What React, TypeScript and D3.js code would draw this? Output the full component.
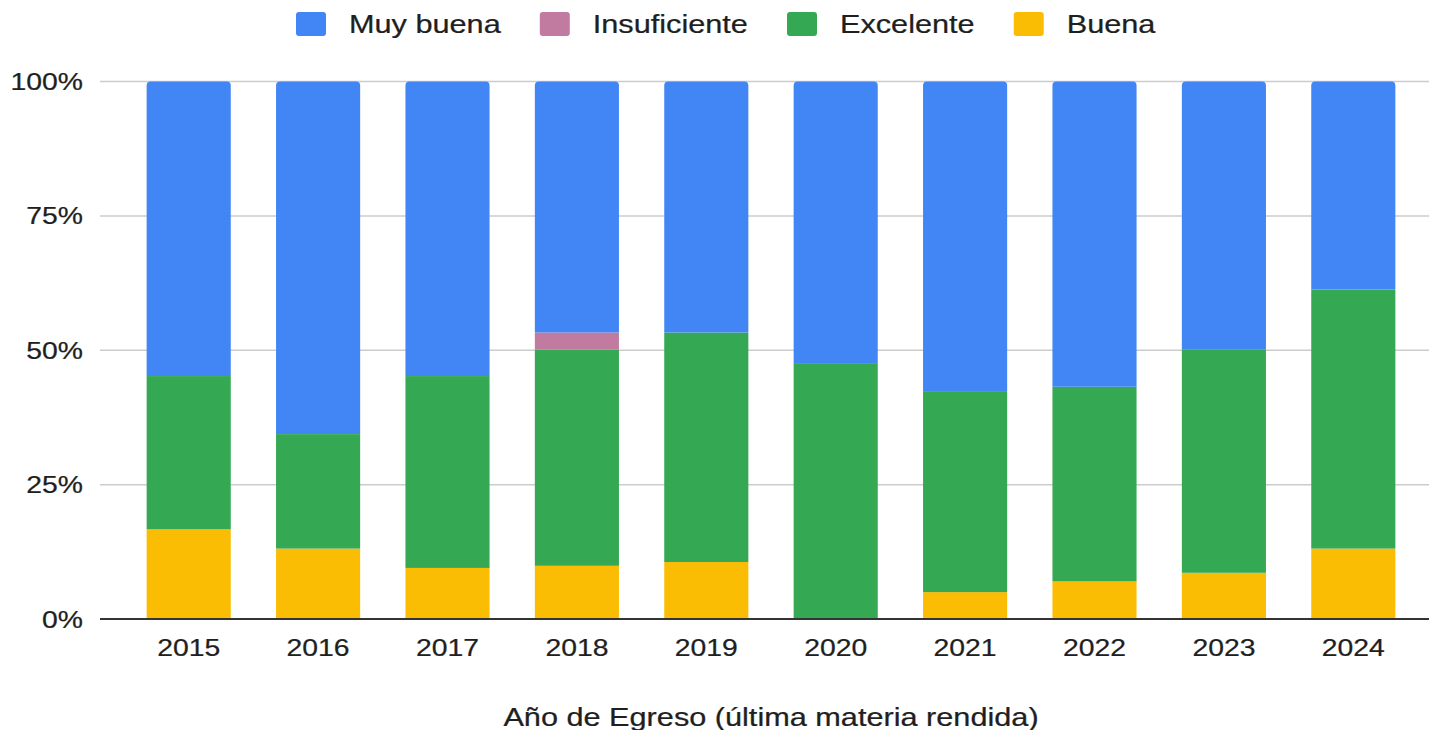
import React, { useEffect, useMemo } from "react";
import * as d3 from "d3";

const years = ["2015", "2016", "2017", "2018", "2019", "2020", "2021", "2022", "2023", "2024"];
const buena = [16.7, 13.1, 9.5, 9.9, 10.6, 0, 5.0, 7.0, 8.6, 13.1];
const excelente = [28.5, 21.3, 35.7, 40.2, 42.7, 47.6, 37.4, 36.2, 41.5, 48.2];
const insuficiente = [0, 0, 0, 3.2, 0, 0, 0, 0, 0, 0];
const muyBuena = [54.8, 65.6, 54.8, 46.7, 46.7, 52.4, 57.6, 56.8, 49.9, 38.7];
const yTicks = [0, 0.25, 0.5, 0.75, 1];
const legendOrder = ["Muy buena", "Insuficiente", "Excelente", "Buena"];
const stackOrder = ["Buena", "Excelente", "Insuficiente", "Muy buena"];
const xTitle = "Año de Egreso (última materia rendida)";

const colors: Record<string, string> = {
  "Muy buena": "#4285F4",
  Insuficiente: "#C27BA0",
  Excelente: "#34A853",
  Buena: "#FBBC04",
};

const W = 1429;
const H = 730;
const FONT = "'Liberation Sans', Arial, sans-serif";
const SX = 1.18;

function measure(text: string, size: number) {
  const c = document.createElement("canvas").getContext("2d")!;
  c.font = `${size}px ${FONT}`;
  return c.measureText(text).width;
}

function roundTopRect(x: number, y: number, w: number, h: number, r: number) {
  const rr = Math.min(r, h, w / 2);
  return `M${x},${y + h}V${y + rr}Q${x},${y} ${x + rr},${y}H${x + w - rr}Q${x + w},${y} ${x + w},${y + rr}V${y + h}Z`;
}

export default function App() {
  useEffect(() => {
    document.body.style.margin = "0";
  }, []);

  const rows = years.map((y, i) => ({
    year: y,
    Buena: buena[i],
    Excelente: excelente[i],
    Insuficiente: insuficiente[i],
    "Muy buena": muyBuena[i],
  }));

  const x = d3.scaleBand<string>().domain(years).range([124, 1418]).paddingInner(0.35).paddingOuter(0.175);
  const y = d3.scaleLinear().domain([0, 1]).range([619, 81.5]);

  const series = d3
    .stack<any>()
    .keys(stackOrder)
    .offset(d3.stackOffsetExpand)(rows as any);

  const topKey = rows.map((r: any) => {
    let k = "";
    stackOrder.forEach((s) => {
      if (r[s] > 0) k = s;
    });
    return k;
  });

  const legendItems = useMemo(() => {
    let cx = 296;
    return legendOrder.map((name) => {
      const item = { name, rx: cx, tx: cx + 53 };
      cx = cx + 53 + measure(name, 26) * SX + 39;
      return item;
    });
  }, []);

  const T = (props: any) => {
    const { x: tx, y: ty, children, ...rest } = props;
    return (
      <text
        transform={`translate(${tx},${ty}) scale(${SX},1)`}
        fontFamily={FONT}
        fill="#1f1f1f"
        stroke="#1f1f1f"
        strokeWidth={0.25}
        {...rest}
      >
        {children}
      </text>
    );
  };

  return (
    <svg width={W} height={H} style={{ display: "block", background: "#fff" }}>
      {legendItems.map((it) => (
        <g key={it.name}>
          <rect x={it.rx} y={12} width={30} height={24} rx={3} fill={colors[it.name]} />
          <T x={it.tx} y={33} fontSize={26}>
            {it.name}
          </T>
        </g>
      ))}

      {yTicks.slice(1).map((t) => (
        <line key={t} x1={100} x2={W} y1={y(t)} y2={y(t)} stroke="#cccccc" strokeWidth={1.5} />
      ))}
      {yTicks.map((t) => (
        <T key={"l" + t} x={83} y={y(t) + 8.5} fontSize={24} textAnchor="end">
          {d3.format(".0%")(t)}
        </T>
      ))}

      {series.map((s: any) => (
        <g key={s.key} fill={colors[s.key]}>
          {s.map((d: any, i: number) => {
            const y0 = y(d[0]);
            const y1 = y(d[1]);
            const h = y0 - y1;
            if (h <= 0) return null;
            const bx = x(years[i])!;
            const bw = x.bandwidth();
            if (topKey[i] === s.key) {
              return <path key={i} d={roundTopRect(bx, y1, bw, h, 4)} />;
            }
            return <rect key={i} x={bx} y={y1} width={bw} height={h} />;
          })}
        </g>
      ))}

      <line x1={100} x2={W} y1={y(0)} y2={y(0)} stroke="#333" strokeWidth={2} />

      {years.map((yr) => (
        <T key={yr} x={x(yr)! + x.bandwidth() / 2} y={656} fontSize={24} textAnchor="middle">
          {yr}
        </T>
      ))}

      <T x={771} y={726} fontSize={26} textAnchor="middle">
        {xTitle}
      </T>
    </svg>
  );
}
